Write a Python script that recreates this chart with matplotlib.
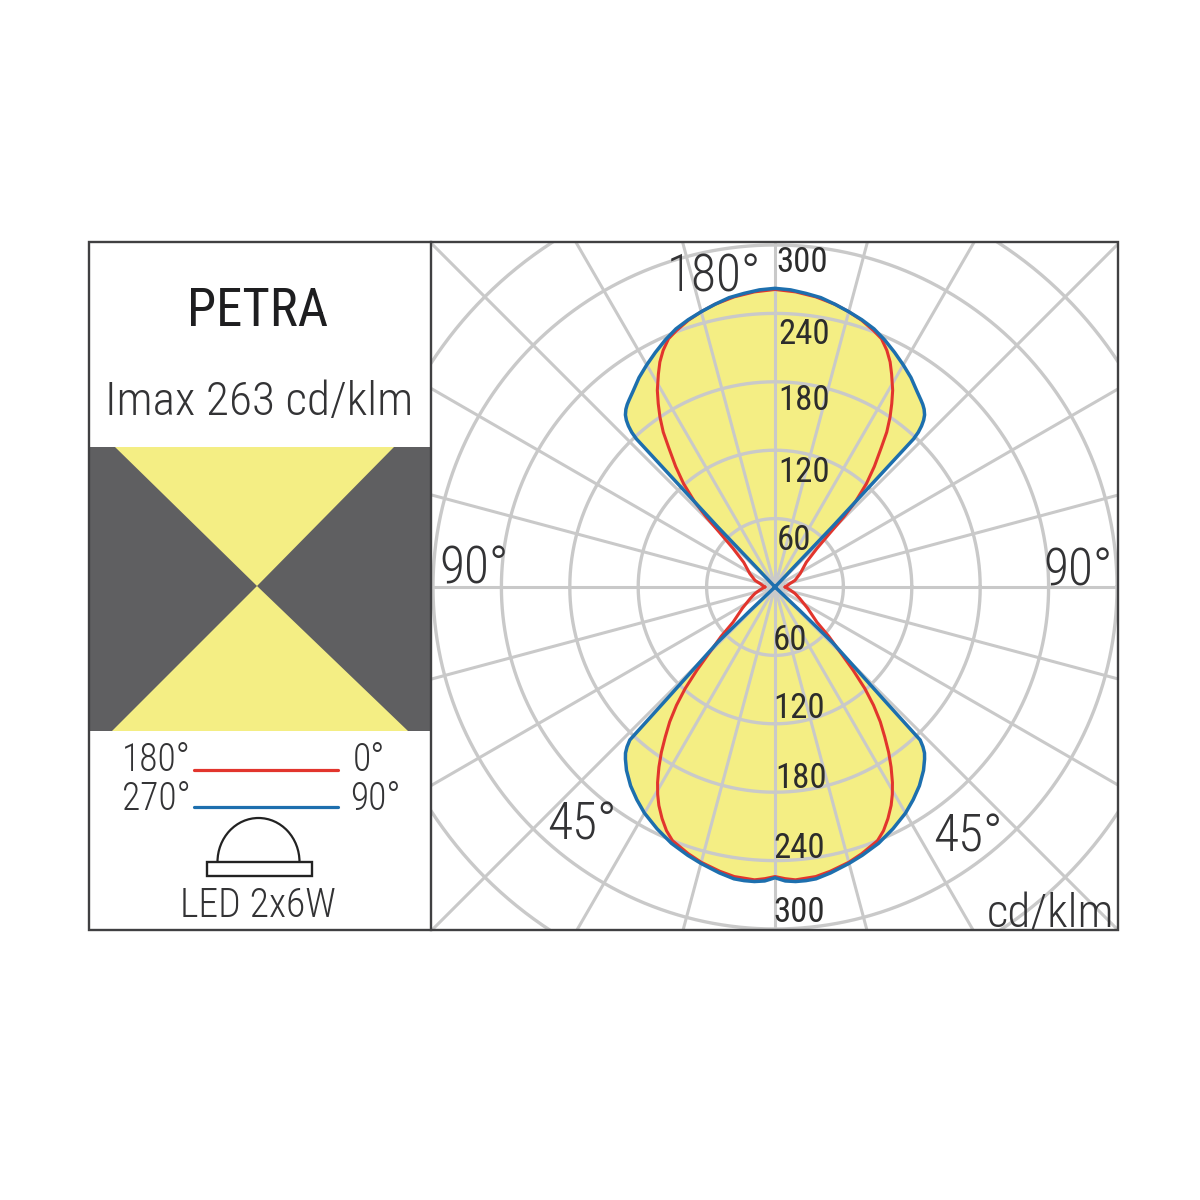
import numpy as np
import matplotlib
matplotlib.use("Agg")
import matplotlib.pyplot as plt
from matplotlib.patches import Polygon, Rectangle, Arc

# luminous intensity: angle from the vertical axis (deg), cd/klm
blue_upper_deg = [0, 3, 6, 9, 12, 15, 18, 21, 24, 27, 30, 33, 36, 38, 39, 40, 41, 41.7, 42.3, 42.8, 43.1, 43.2, 43.6, 43.5, 43.5]
blue_upper_cd = [262, 261, 259, 257, 253.5, 250, 246.5, 242.5, 237, 231, 225, 219, 212, 208, 206, 203.5, 200, 196, 191, 185, 178, 140, 73, 32, 0]
blue_lower_deg = [0, 1, 2, 4, 6, 8, 11, 15, 18, 22, 26, 30, 33, 36, 39, 41, 42, 42.8, 43.5, 44, 46, 46.5, 46.5]
blue_lower_cd = [255, 256.5, 258, 259, 259, 258.5, 255.5, 251, 247.5, 242.5, 236, 229, 222.5, 215.5, 207, 200, 196, 191, 185, 136, 70, 30, 0]
red_upper_deg = [0, 4, 8, 12, 15, 18, 21, 23.2, 25.3, 27.1, 28.7, 30.9, 32.5, 34.1, 35.8, 37.3, 39.5, 41.5, 43.3, 44.5, 45.5, 47.4, 51.7, 62, 71.6, 77, 90]
red_upper_cd = [261, 259.5, 257, 253.5, 250, 246, 241, 237, 229.6, 221.7, 213, 201, 190.6, 180, 167.6, 154, 137, 121, 103, 86, 68, 50, 35, 25, 18.5, 13.5, 9]
red_lower_deg = [0, 2, 4, 8, 11, 15, 18, 22, 24, 26, 28, 29.5, 31, 32.8, 34.5, 36.2, 38, 39.8, 41.5, 43.2, 45, 47.5, 50, 57, 65, 72, 78, 90]
red_lower_cd = [254, 256, 257.5, 256.5, 254, 250, 246, 240, 234, 226, 217, 209, 200, 188, 176, 163, 150, 135, 119, 100, 81, 64, 48, 34, 24, 18.5, 14, 9]
ring_values = [60, 120, 180, 240, 300, 360]
spoke_degs = list(range(0, 360, 15))
upper_ticks = ["300", "240", "180", "120", "60"]
lower_ticks = ["60", "120", "180", "240", "300"]

W, H = 1200, 1200
FONT = ["Roboto Condensed", "Archivo Narrow", "Liberation Sans"]
TEXT = "#333335"
GRID = "#c9c9c9"
YELLOW = "#f4ee84"
DARK = "#5f5f61"
BLUE = "#1d6fae"
RED = "#e2352d"
SCALE = 1.14  # pixels per cd/klm
CX, CY = 775, 587
L, R, T, B = 89, 1118, 242, 930
MID = 431

fig = plt.figure(figsize=(12, 12), dpi=100, facecolor="white")

ax = fig.add_axes([MID / W, 1 - B / H, (R - MID) / W, (B - T) / H])
ax.set_xlim((MID - CX) / SCALE, (R - CX) / SCALE)
ax.set_ylim((CY - B) / SCALE, (CY - T) / SCALE)
ax.axis("off")


def lobe(deg, cd, sign):
    a = np.radians(np.array(deg, float))
    r = np.array(cd, float)
    x = r * np.sin(a)
    y = sign * r * np.cos(a)
    return np.r_[-x[::-1], x[1:]], np.r_[y[::-1], y[1:]]


bux, buy = lobe(blue_upper_deg, blue_upper_cd, 1)
blx, bly = lobe(blue_lower_deg, blue_lower_cd, -1)
rux, ruy = lobe(red_upper_deg, red_upper_cd, 1)
rlx, rly = lobe(red_lower_deg, red_lower_cd, -1)

ax.fill(bux, buy, color=YELLOW, lw=0, zorder=1)
ax.fill(blx, bly, color=YELLOW, lw=0, zorder=1)

t = np.radians(np.linspace(0, 360, 721))
for rv in ring_values:
    ax.plot(rv * np.cos(t), rv * np.sin(t), color=GRID, lw=2.4, zorder=2)
for d in spoke_degs:
    a = np.radians(d)
    ax.plot([0, 600 * np.cos(a)], [0, 600 * np.sin(a)], color=GRID, lw=2.2, zorder=2)

for x, y in ((rux, ruy), (rlx, rly)):
    ax.plot(x, y, color=RED, lw=2.2, zorder=3, solid_joinstyle="round")
for x, y in ((bux, buy), (blx, bly)):
    ax.plot(x, y, color=BLUE, lw=2.5, zorder=4, solid_joinstyle="round")

ov = fig.add_axes([0, 0, 1, 1], facecolor="none")
ov.set_xlim(0, W)
ov.set_ylim(H, 0)
ov.axis("off")

ov.add_patch(Rectangle((L + 1, 447), MID - L - 1, 284, fc=DARK, ec="none", zorder=1))
ov.add_patch(Polygon([(115, 447), (394, 447), (257, 586)], fc=YELLOW, ec="none", zorder=2))
ov.add_patch(Polygon([(112, 731), (408, 731), (257, 586)], fc=YELLOW, ec="none", zorder=2))
ov.add_patch(Rectangle((L, T), R - L, B - T, fc="none", ec="#404042", lw=1.7, zorder=6))
ov.plot([MID, MID], [T, B], color="#404042", lw=1.7, zorder=6)

ov.plot([194, 338], [770, 770], color=RED, lw=2.3, solid_capstyle="round")
ov.plot([194, 338], [807, 807], color=BLUE, lw=2.3, solid_capstyle="round")
ov.add_patch(Arc((258.5, 862), 82, 88, theta1=180, theta2=360, color="#222222", lw=1.6))
ov.add_patch(Rectangle((207, 862), 105, 14, fc="white", ec="#222222", lw=1.7, zorder=3))


def txt(x, y, s, size, color=TEXT, weight="light"):
    ov.text(x, y + 2, s, fontsize=size, family=FONT, weight=weight, ha="center", va="center", color=color, zorder=7)


txt(258, 310, "PETRA", 38, color="#1e1e20", weight="normal")
txt(259, 400, "Imax 263 cd/klm", 34)
txt(156, 758, "180°", 27)
txt(369, 758, "0°", 27)
txt(156, 797, "270°", 27)
txt(375, 797, "90°", 27)
txt(258, 904, "LED 2x6W", 28.5)

for s, x, y in zip(upper_ticks, [802, 804, 804, 804, 794], [260, 332, 398, 470, 539]):
    txt(x, y, s, 25, color="#2c2c2c", weight="normal")
for s, x, y in zip(lower_ticks, [790, 799, 801, 799, 799], [638, 707, 777, 846, 910]):
    txt(x, y, s, 25, color="#2c2c2c", weight="normal")

txt(714, 275, "180°", 37)
txt(474, 568, "90°", 37)
txt(1078, 570, "90°", 37)
txt(582, 824, "45°", 37)
txt(968, 836, "45°", 37)
txt(1051, 912, "cd/klm", 34)

fig.savefig("out.png", dpi=100)
